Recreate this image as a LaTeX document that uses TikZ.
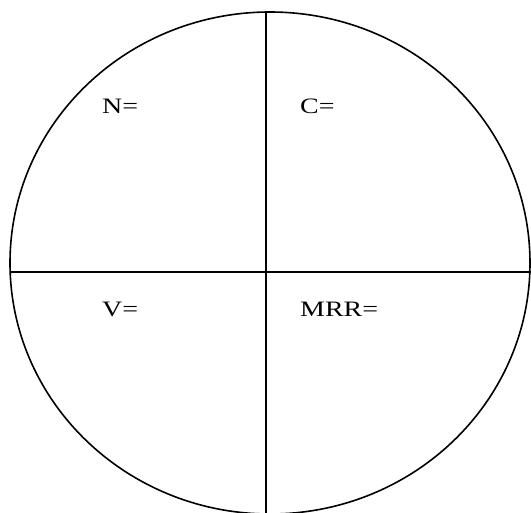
\documentclass[tikz,border=0pt]{standalone}
\usepackage{fontspec}
\usepackage{graphicx}
\setmainfont{Liberation Serif}
\newcommand{\widetxt}[1]{\scalebox{1.27}[1]{#1}}
\begin{document}
\begin{tikzpicture}[x=1pt,y=-1pt,
  lbl/.style={anchor=base west,inner sep=0pt,font=\fontsize{22}{26}\selectfont},
  ln/.style={line width=2pt}]
\useasboundingbox (0,0) rectangle (531,513);
\clip (0,0) rectangle (531,513);
\draw[line width=1.6pt] (270,263) ellipse [x radius=260, y radius=251];
\coordinate (L) at (10,272);
\coordinate (R) at (531,272);
\coordinate (T) at (266,12);
\coordinate (B) at (266,513);
\draw[ln] (L) -- (R);
\draw[ln] (T) -- (B);
\node[lbl] (n) at (102,114) {\widetxt{N=}};
\node[lbl] (c) at (300,114) {\widetxt{C=}};
\node[lbl] (v) at (102,317) {\widetxt{V=}};
\node[lbl] (m) at (300,317) {\widetxt{MRR=}};
\end{tikzpicture}
\end{document}
